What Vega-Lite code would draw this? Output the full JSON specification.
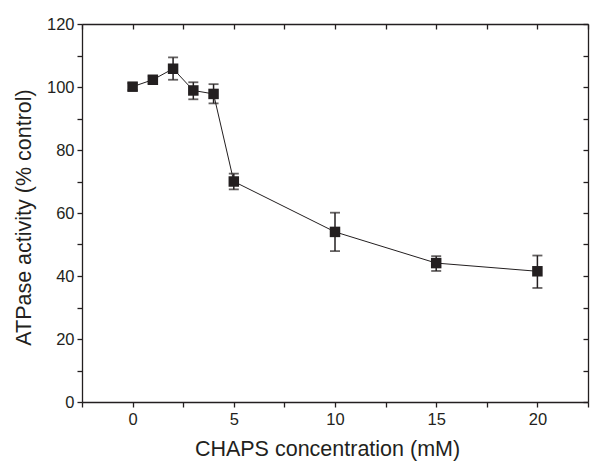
{
  "$schema": "https://vega.github.io/schema/vega-lite/v6.json",
  "width": 506,
  "height": 378,
  "autosize": "none",
  "padding": {"left": 82, "top": 24, "right": 5, "bottom": 59},
  "background": "white",
  "config": {
    "view": {"stroke": null},
    "font": "Liberation Sans",
    "axis": {
      "domainColor": "#231f20",
      "domainWidth": 1.3,
      "tickColor": "#231f20",
      "tickWidth": 1.3,
      "tickSize": 5,
      "grid": false,
      "labelFont": "Liberation Sans",
      "labelFontSize": 16.5,
      "labelColor": "#231f20",
      "titleFont": "Liberation Sans",
      "titleFontSize": 21.5,
      "titleFontWeight": "normal",
      "titleColor": "#231f20"
    }
  },
  "data": {
    "values": [
      {"conc": 0, "act": 100.1, "lo": 99.0, "hi": 101.2},
      {"conc": 1, "act": 102.3, "lo": 101.2, "hi": 103.4},
      {"conc": 2, "act": 105.8, "lo": 102.3, "hi": 109.4},
      {"conc": 3, "act": 98.9, "lo": 96.1, "hi": 101.5},
      {"conc": 4, "act": 97.8, "lo": 94.8, "hi": 100.9},
      {"conc": 5, "act": 70.0, "lo": 67.5, "hi": 72.5},
      {"conc": 10, "act": 54.0, "lo": 47.9, "hi": 60.1},
      {"conc": 15, "act": 44.1, "lo": 41.6, "hi": 46.3},
      {"conc": 20, "act": 41.5, "lo": 36.2, "hi": 46.5}
    ]
  },
  "resolve": {"axis": {"x": "independent", "y": "independent"}},
  "layer": [
    {
      "mark": {"type": "line", "color": "#231f20", "strokeWidth": 1},
      "encoding": {
        "x": {
          "field": "conc", "type": "quantitative",
          "scale": {"domain": [-2.5, 22.5], "nice": false, "zero": false},
          "axis": {
            "orient": "bottom",
            "title": "CHAPS concentration (mM)",
            "values": [-2.5, 0, 2.5, 5, 7.5, 10, 12.5, 15, 17.5, 20, 22.5],
            "labelExpr": "datum.value % 5 == 0 ? datum.label : ''",
            "labelPadding": 4,
            "titlePadding": 11,
            "titleX": 245
          }
        },
        "y": {
          "field": "act", "type": "quantitative",
          "scale": {"domain": [0, 120], "nice": false},
          "axis": {
            "orient": "left",
            "title": "ATPase activity (% control)",
            "values": [0, 10, 20, 30, 40, 50, 60, 70, 80, 90, 100, 110, 120],
            "labelExpr": "datum.value % 20 == 0 ? datum.label : ''",
            "labelPadding": 3,
            "titlePadding": 11,
            "titleY": 193
          }
        }
      }
    },
    {
      "mark": {"type": "rule", "color": "#231f20", "strokeWidth": 1.5},
      "encoding": {
        "x": {
          "field": "conc", "type": "quantitative",
          "axis": {
            "orient": "top", "title": null, "labels": false,
            "values": [-2.5, 0, 2.5, 5, 7.5, 10, 12.5, 15, 17.5, 20, 22.5],
            "tickSize": -5
          }
        },
        "y": {
          "field": "lo", "type": "quantitative",
          "axis": {
            "orient": "right", "title": null, "labels": false,
            "values": [0, 10, 20, 30, 40, 50, 60, 70, 80, 90, 100, 110, 120],
            "tickSize": -5
          }
        },
        "y2": {"field": "hi"}
      }
    },
    {
      "mark": {"type": "tick", "orient": "horizontal", "color": "#231f20", "size": 10, "thickness": 1.8},
      "encoding": {
        "x": {"field": "conc", "type": "quantitative", "axis": null},
        "y": {"field": "hi", "type": "quantitative", "axis": null}
      }
    },
    {
      "mark": {"type": "tick", "orient": "horizontal", "color": "#231f20", "size": 10, "thickness": 1.8},
      "encoding": {
        "x": {"field": "conc", "type": "quantitative", "axis": null},
        "y": {"field": "lo", "type": "quantitative", "axis": null}
      }
    },
    {
      "mark": {"type": "point", "shape": "square", "filled": true, "size": 110, "color": "#231f20", "opacity": 1},
      "encoding": {
        "x": {"field": "conc", "type": "quantitative", "axis": null},
        "y": {"field": "act", "type": "quantitative", "axis": null}
      }
    }
  ]
}
